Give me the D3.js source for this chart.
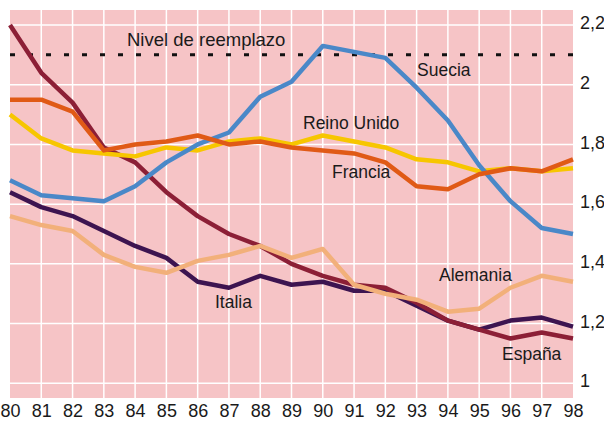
<!DOCTYPE html>
<html lang="es">
<head>
    <meta charset="UTF-8">
    <title>Fecundidad</title>
    <style>
        body {
            margin: 0;
            background: #ffffff;
            font-family: 'Liberation Sans', Arial, sans-serif;
        }
        svg text {
            fill: #1a1a1a;
        }
    </style>
</head>
<body>
    <svg id="chart" width="604" height="421"></svg>

    <script src="https://d3js.org/d3.v7.min.js"></script>
    <script>
        // Data
        const years = [80, 81, 82, 83, 84, 85, 86, 87, 88, 89, 90, 91, 92, 93, 94, 95, 96, 97, 98];
        const yTicks = [1, 1.2, 1.4, 1.6, 1.8, 2, 2.2];
        const replacementLevel = 2.1;

        const italia      = [1.64, 1.59, 1.56, 1.51, 1.46, 1.42, 1.34, 1.32, 1.36, 1.33, 1.34, 1.31, 1.31, 1.26, 1.21, 1.18, 1.21, 1.22, 1.19];
        const espana      = [2.20, 2.04, 1.94, 1.79, 1.74, 1.64, 1.56, 1.50, 1.46, 1.40, 1.36, 1.33, 1.32, 1.27, 1.21, 1.18, 1.15, 1.17, 1.15];
        const alemania    = [1.56, 1.53, 1.51, 1.43, 1.39, 1.37, 1.41, 1.43, 1.46, 1.42, 1.45, 1.33, 1.30, 1.28, 1.24, 1.25, 1.32, 1.36, 1.34];
        const reinoUnido  = [1.90, 1.82, 1.78, 1.77, 1.76, 1.79, 1.78, 1.81, 1.82, 1.80, 1.83, 1.81, 1.79, 1.75, 1.74, 1.71, 1.72, 1.71, 1.72];
        const suecia      = [1.68, 1.63, 1.62, 1.61, 1.66, 1.74, 1.80, 1.84, 1.96, 2.01, 2.13, 2.11, 2.09, 1.99, 1.88, 1.73, 1.61, 1.52, 1.50];
        const francia     = [1.95, 1.95, 1.91, 1.78, 1.80, 1.81, 1.83, 1.80, 1.81, 1.79, 1.78, 1.77, 1.74, 1.66, 1.65, 1.70, 1.72, 1.71, 1.75];

        // drawn bottom to top
        const series = [
            { name: 'Italia',      values: italia,     color: '#3d1450', label: [215, 308] },
            { name: 'España',      values: espana,     color: '#8c1f36', label: [502, 360] },
            { name: 'Alemania',    values: alemania,   color: '#f2b07a', label: [439, 281] },
            { name: 'Reino Unido', values: reinoUnido, color: '#f7c600', label: [303, 129] },
            { name: 'Suecia',      values: suecia,     color: '#4a88c8', label: [417, 76] },
            { name: 'Francia',     values: francia,    color: '#e05a16', label: [332, 178] }
        ];

        const svg = d3.select('#chart');
        const plot = { left: 10, right: 573, top: 10, bottom: 398 };

        const x = d3.scaleLinear()
            .domain([80, 98])
            .range([plot.left, plot.right]);

        const y = d3.scaleLinear()
            .domain([1, 2.2])
            .range([383.3, 25]);

        // background
        svg.append('rect')
            .attr('x', plot.left)
            .attr('y', plot.top)
            .attr('width', plot.right - plot.left)
            .attr('height', plot.bottom - plot.top)
            .attr('fill', '#f6c4c6');

        // grid
        svg.append('g')
            .selectAll('line')
            .data(years.slice(1, -1))
            .enter().append('line')
            .attr('x1', d => x(d)).attr('x2', d => x(d))
            .attr('y1', plot.top).attr('y2', plot.bottom)
            .attr('stroke', '#ffffff')
            .attr('stroke-width', 1.5);

        svg.append('g')
            .selectAll('line')
            .data(yTicks)
            .enter().append('line')
            .attr('x1', plot.left).attr('x2', plot.right)
            .attr('y1', d => y(d)).attr('y2', d => y(d))
            .attr('stroke', '#ffffff')
            .attr('stroke-width', 1.5);

        // replacement level
        svg.append('line')
            .attr('x1', plot.left).attr('x2', plot.right)
            .attr('y1', y(replacementLevel)).attr('y2', y(replacementLevel))
            .attr('stroke', '#111')
            .attr('stroke-width', 3)
            .attr('stroke-dasharray', '5 13');

        svg.append('text')
            .attr('x', 127)
            .attr('y', 46)
            .attr('font-size', 18.5)
            .text('Nivel de reemplazo');

        // lines
        const line = d3.line()
            .x((d, i) => x(years[i]))
            .y(d => y(d));

        svg.append('g')
            .selectAll('path')
            .data(series)
            .enter().append('path')
            .attr('d', d => line(d.values))
            .attr('fill', 'none')
            .attr('stroke', d => d.color)
            .attr('stroke-width', 4.5)
            .attr('stroke-linejoin', 'round');

        svg.append('g')
            .selectAll('text')
            .data(series)
            .enter().append('text')
            .attr('x', d => d.label[0])
            .attr('y', d => d.label[1])
            .attr('font-size', 17.5)
            .text(d => d.name);

        // axes
        const xAxis = d3.axisBottom(x)
            .tickValues(years)
            .tickFormat(d3.format('d'))
            .tickSize(0)
            .tickPadding(0);

        svg.append('g')
            .attr('transform', 'translate(0,404)')
            .call(xAxis)
            .call(g => g.select('.domain').remove())
            .selectAll('text')
            .attr('font-size', 18)
            .attr('font-family', "'Liberation Sans', Arial, sans-serif")
            .attr('dy', '0.71em')
            .attr('fill', '#1a1a1a');

        const yAxis = d3.axisRight(y)
            .tickValues(yTicks)
            .tickFormat(d => String(d).replace('.', ','))
            .tickSize(0)
            .tickPadding(0);

        svg.append('g')
            .attr('transform', 'translate(580,0)')
            .call(yAxis)
            .call(g => g.select('.domain').remove())
            .selectAll('text')
            .attr('font-size', 18)
            .attr('font-family', "'Liberation Sans', Arial, sans-serif")
            .attr('dy', '0.2em')
            .attr('fill', '#1a1a1a');
    </script>
</body>
</html>
